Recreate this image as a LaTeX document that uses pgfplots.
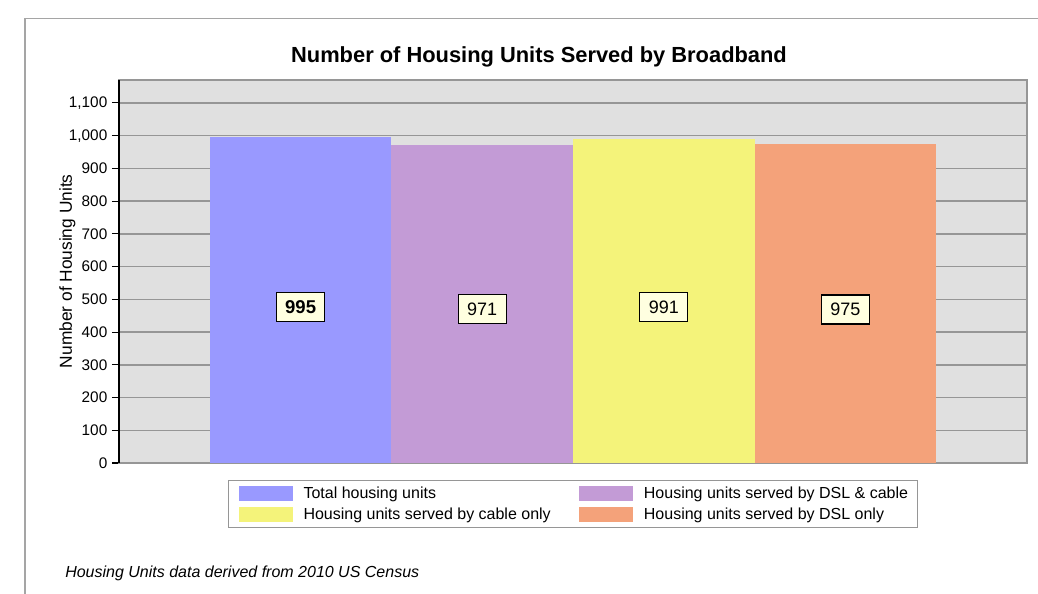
\documentclass[border=0pt]{standalone}
\usepackage{fontspec}
\setmainfont{Liberation Sans}
\usepackage{pgfplots}
\pgfplotsset{compat=1.18}
\definecolor{c1}{RGB}{153,153,255}
\definecolor{c2}{RGB}{195,155,214}
\definecolor{c3}{RGB}{244,243,122}
\definecolor{c4}{RGB}{244,162,122}
\definecolor{bg}{RGB}{224,224,224}
\definecolor{gridc}{RGB}{150,150,150}
\definecolor{framec}{RGB}{165,165,165}
\definecolor{lab}{RGB}{255,255,224}
\begin{document}
\begin{tikzpicture}
\draw[framec, line width=1.1pt] (18.75pt,-30pt) -- (18.75pt,431pt) -- (820pt,431pt);
\node[font=\fontsize{16.4}{19}\selectfont\bfseries] at (404.25pt,402pt) {Number of Housing Units Served by Broadband};
\node[rotate=90, font=\fontsize{13}{15}\selectfont] at (50.6pt,241.35pt) {Number of Housing Units};
\node[anchor=base west, font=\fontsize{12}{14}\selectfont\itshape, inner sep=0pt] at (48.75pt,11.5pt) {Housing Units data derived from 2010 US Census};
\begin{axis}[
  at={(89.25pt,97.5pt)}, anchor=south west,
  width=681pt, height=287.25pt, scale only axis,
  xmin=-1, xmax=4, ymin=0, ymax=1170,
  xtick=\empty,
  ytick={0,100,...,1100},
  ymajorgrids, grid style={gridc, line width=1.1pt},
  axis background/.style={fill=bg},
  axis line style={gridc, line width=1.1pt},
  ytick pos=left, tick align=outside, major tick length=5.25pt,
  y tick style={black, line width=0.8pt},
  yticklabel style={font=\fontsize{11.5}{13}\selectfont},
  /pgf/number format/assume math mode=true,
  /pgf/number format/1000 sep={,},
  extra description/.code={\draw[black, line width=1.1pt] (0,0) -- (0,1);},
  legend columns=2,
  legend cell align=left,
  legend style={at={(0.1204,0)}, anchor=north west, yshift=-12.75pt,
    draw=gridc, line width=0.8pt, fill=white,
    font=\fontsize{12}{14}\selectfont,
    inner xsep=7.5pt, inner ysep=3.3pt, row sep=2.8pt,
    nodes={inner sep=0pt, text height=10pt, text depth=3pt},
    /tikz/every odd column/.append style={column sep=8pt},
    /tikz/every even column/.append style={column sep=8.8pt}},
]
\addplot[ybar, bar width=1, bar shift=0pt, fill=c1, draw=none,
  legend image code/.code={\fill[c1] (0pt,-5.6pt) rectangle (40.5pt,5.6pt);}]
  coordinates {(0,995)};
\addlegendentry{\makebox[198pt][l]{Total housing units}}
\addplot[ybar, bar width=1, bar shift=0pt, fill=c2, draw=none,
  legend image code/.code={\fill[c2] (0pt,-5.6pt) rectangle (40.5pt,5.6pt);}]
  coordinates {(1,971)};
\addlegendentry{\makebox[198pt][l]{Housing units served by DSL \& cable}}
\addplot[ybar, bar width=1, bar shift=0pt, fill=c3, draw=none,
  legend image code/.code={\fill[c3] (0pt,-5.6pt) rectangle (40.5pt,5.6pt);}]
  coordinates {(2,991)};
\addlegendentry{\makebox[198pt][l]{Housing units served by cable only}}
\addplot[ybar, bar width=1, bar shift=0pt, fill=c4, draw=none,
  legend image code/.code={\fill[c4] (0pt,-5.6pt) rectangle (40.5pt,5.6pt);}]
  coordinates {(3,975)};
\addlegendentry{\makebox[198pt][l]{Housing units served by DSL only}}
\addplot[forget plot, draw=none, mark=none, nodes near coords={\pgfplotspointmeta},
  point meta=explicit symbolic,
  every node near coord/.append style={anchor=center, fill=lab, draw=black, line width=0.9pt,
    minimum width=36pt, minimum height=21.75pt, inner sep=1pt,
    font=\fontsize{13.9}{16}\selectfont\bfseries}]
  coordinates {(0,477) [995]};
\addplot[forget plot, draw=none, mark=none, nodes near coords={\pgfplotspointmeta},
  point meta=explicit symbolic,
  every node near coord/.append style={anchor=center, fill=lab, draw=black, line width=0.9pt,
    minimum width=36pt, minimum height=21.75pt, inner sep=1pt,
    font=\fontsize{13.5}{16}\selectfont}]
  coordinates {(1,470) [971] (2,477) [991] (3,469) [975]};
\end{axis}
\pgfresetboundingbox
\path[use as bounding box] (0,0) rectangle (778.5pt,444.75pt);
\end{tikzpicture}
\end{document}
